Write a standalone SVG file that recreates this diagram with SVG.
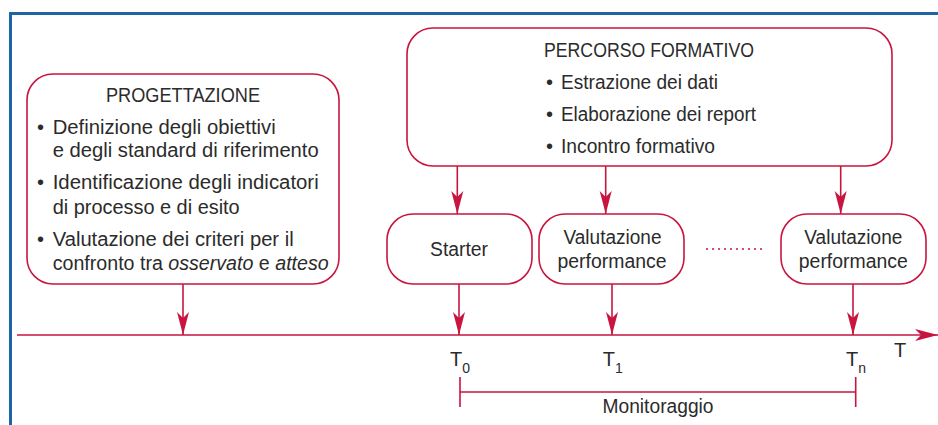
<svg xmlns="http://www.w3.org/2000/svg" width="938" height="425" viewBox="0 0 938 425">
<defs>
<style>
.frame{fill:none;stroke:#1f65a6;stroke-width:3}
.box{fill:#fff;stroke:#c8153f;stroke-width:1.6}
.ln{fill:none;stroke:#c8153f;stroke-width:1.6}
.t{font-family:"Liberation Sans",Arial,sans-serif;font-size:20px;fill:#2b2b2b}
.c{text-anchor:middle}
.dot{fill:none;stroke:#c8153f;stroke-width:1.6;stroke-dasharray:2 4}
</style>
<marker id="ah" markerUnits="userSpaceOnUse" markerWidth="26" markerHeight="14" viewBox="-24 -7 26 14" refX="0" refY="0" orient="auto">
<path d="M0,0 L-23,-6 L-17,0 L-23,6 Z" fill="#c8153f"/>
</marker>
</defs>
<rect width="938" height="425" fill="#fff"/>
<path class="frame" d="M10.5,425 V13.5 H938"/>

<g id="progettazione">
<rect class="box" x="27" y="74" width="312" height="210" rx="26"/>
<text class="t c" x="183" y="102" textLength="154" lengthAdjust="spacingAndGlyphs">PROGETTAZIONE</text>
<text class="t" x="37" y="133.5">•</text>
<text class="t" x="52.7" y="133.5" textLength="223" lengthAdjust="spacingAndGlyphs">Definizione degli obiettivi</text>
<text class="t" x="52.7" y="157" textLength="266" lengthAdjust="spacingAndGlyphs">e degli standard di riferimento</text>
<text class="t" x="37" y="189">•</text>
<text class="t" x="52.7" y="189" textLength="266" lengthAdjust="spacingAndGlyphs">Identificazione degli indicatori</text>
<text class="t" x="52.7" y="214" textLength="187" lengthAdjust="spacingAndGlyphs">di processo e di esito</text>
<text class="t" x="37" y="245.5">•</text>
<text class="t" x="52.7" y="245.5" textLength="241" lengthAdjust="spacingAndGlyphs">Valutazione dei criteri per il</text>
<text class="t" x="52.7" y="270" textLength="276" lengthAdjust="spacingAndGlyphs">confronto tra <tspan font-style="italic">osservato</tspan> e <tspan font-style="italic">atteso</tspan></text>
</g>

<g id="percorso">
<rect class="box" x="407" y="28" width="485" height="138" rx="26"/>
<text class="t c" x="649" y="57" textLength="210" lengthAdjust="spacingAndGlyphs">PERCORSO FORMATIVO</text>
<text class="t" x="546" y="89">•</text>
<text class="t" x="561" y="89" textLength="157" lengthAdjust="spacingAndGlyphs">Estrazione dei dati</text>
<text class="t" x="546" y="121">•</text>
<text class="t" x="561" y="121" textLength="195" lengthAdjust="spacingAndGlyphs">Elaborazione dei report</text>
<text class="t" x="546" y="153">•</text>
<text class="t" x="561" y="153" textLength="154" lengthAdjust="spacingAndGlyphs">Incontro formativo</text>
</g>

<g id="starter">
<rect class="box" x="387" y="214" width="145" height="70" rx="26"/>
<text class="t c" x="459" y="256" textLength="58" lengthAdjust="spacingAndGlyphs">Starter</text>
</g>

<g id="valutazione1">
<rect class="box" x="539" y="214" width="145" height="70" rx="26"/>
<text class="t c" x="612.5" y="244" textLength="98" lengthAdjust="spacingAndGlyphs">Valutazione</text>
<text class="t c" x="612" y="268" textLength="109" lengthAdjust="spacingAndGlyphs">performance</text>
</g>

<g id="valutazionen">
<rect class="box" x="781" y="214" width="145" height="70" rx="26"/>
<text class="t c" x="853.3" y="244" textLength="98" lengthAdjust="spacingAndGlyphs">Valutazione</text>
<text class="t c" x="853.3" y="268" textLength="109" lengthAdjust="spacingAndGlyphs">performance</text>
</g>

<g id="connectors">
<line class="ln" x1="457.3" y1="166" x2="457.3" y2="214" marker-end="url(#ah)"/>
<line class="ln" x1="605.7" y1="166" x2="605.7" y2="214" marker-end="url(#ah)"/>
<line class="ln" x1="840.7" y1="166" x2="840.7" y2="214" marker-end="url(#ah)"/>
<line class="ln" x1="183" y1="284" x2="183" y2="335" marker-end="url(#ah)"/>
<line class="ln" x1="459" y1="284" x2="459" y2="335" marker-end="url(#ah)"/>
<line class="ln" x1="612" y1="284" x2="612" y2="335" marker-end="url(#ah)"/>
<line class="ln" x1="853" y1="284" x2="853" y2="335" marker-end="url(#ah)"/>
<line class="dot" x1="706" y1="249" x2="762" y2="249"/>
</g>

<g id="axis">
<line class="ln" x1="17" y1="335" x2="938" y2="335" marker-end="url(#ah)"/>
<text class="t" x="450" y="366">T<tspan dy="7" font-size="14">0</tspan></text>
<text class="t" x="602.7" y="366">T<tspan dy="7" font-size="14">1</tspan></text>
<text class="t" x="846" y="366">T<tspan dy="7" font-size="14">n</tspan></text>
<text class="t" x="894" y="357">T</text>
</g>

<g id="monitoraggio">
<path class="ln" d="M460,377 V407 M460,392 H855.7 M855.7,377 V407"/>
<text class="t c" x="658" y="413" textLength="111" lengthAdjust="spacingAndGlyphs">Monitoraggio</text>
</g>
</svg>
